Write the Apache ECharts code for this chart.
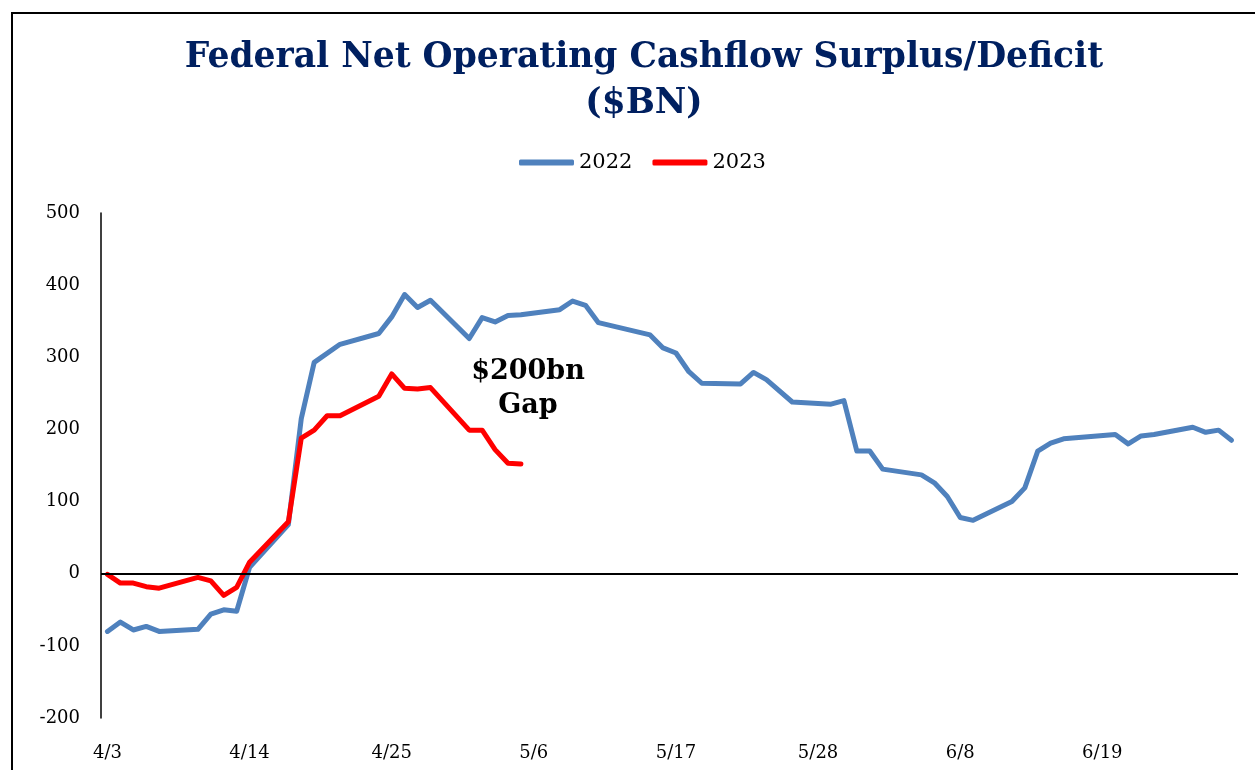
<!DOCTYPE html>
<html>
<head>
<meta charset="utf-8">
<title>Federal Net Operating Cashflow Surplus/Deficit</title>
<script src="https://cdn.jsdelivr.net/npm/echarts@6.0.0/dist/echarts.min.js"></script>
<style>
  html, body { margin: 0; padding: 0; width: 1255px; height: 770px; overflow: hidden; background: #fff; }
  #chart { position: absolute; left: 0; top: 0; width: 1255px; height: 770px; }
  #frame { position: absolute; left: 11px; top: 12px; width: 1300px; height: 800px; border: 2px solid #000; pointer-events: none; }
</style>
</head>
<body>
<div id="chart"></div>
<div id="frame"></div>
<script>
// Calendar days shown on the horizontal axis (one band per day)
const days = [
  '4/3','4/4','4/5','4/6','4/7','4/8','4/9','4/10','4/11','4/12','4/13','4/14','4/15','4/16','4/17','4/18',
  '4/19','4/20','4/21','4/22','4/23','4/24','4/25','4/26','4/27','4/28','4/29','4/30',
  '5/1','5/2','5/3','5/4','5/5','5/6','5/7','5/8','5/9','5/10','5/11','5/12','5/13','5/14','5/15','5/16',
  '5/17','5/18','5/19','5/20','5/21','5/22','5/23','5/24','5/25','5/26','5/27','5/28','5/29','5/30','5/31',
  '6/1','6/2','6/3','6/4','6/5','6/6','6/7','6/8','6/9','6/10','6/11','6/12','6/13','6/14','6/15','6/16',
  '6/17','6/18','6/19','6/20','6/21','6/22','6/23','6/24','6/25','6/26','6/27','6/28','6/29'
];

// 2022 cumulative net operating cashflow ($BN), by reporting day
const dates2022 = [
  '4/3','4/4','4/5','4/6','4/7','4/10','4/11','4/12','4/13','4/14','4/17','4/18','4/19','4/21',
  '4/24','4/25','4/26','4/27','4/28','5/1','5/2','5/3','5/4','5/5','5/8','5/9','5/10','5/11',
  '5/15','5/16','5/17','5/18','5/19','5/22','5/23','5/24','5/26','5/29','5/30','5/31','6/1','6/2',
  '6/5','6/6','6/7','6/8','6/9','6/12','6/13','6/14','6/15','6/16','6/20','6/21','6/22','6/23',
  '6/26','6/27','6/28','6/29'
];
const values2022 = [
  -80, -67, -78, -73, -80, -77, -56, -50, -52, 9, 68, 215, 293, 318,
  333, 356, 387, 369, 379, 326, 355, 349, 358, 359, 366, 378, 372, 348,
  331, 313, 306, 280, 264, 263, 279, 269, 238, 235, 240, 170, 170, 145,
  137, 126, 107, 78, 74, 100, 119, 170, 181, 187, 193, 180, 191, 193,
  203, 196, 199, 185
];

// 2023 cumulative net operating cashflow ($BN), by reporting day
const dates2023 = [
  '4/3','4/4','4/5','4/6','4/7','4/10','4/11','4/12','4/13','4/14','4/17','4/18','4/19','4/20',
  '4/21','4/24','4/25','4/26','4/27','4/28','5/1','5/2','5/3','5/4','5/5'
];
const values2023 = [
  -1, -13, -13, -18, -20, -5, -10, -30, -19, 16, 72, 188, 199, 219,
  219, 246, 277, 257, 256, 258, 199, 199, 172, 153, 152
];

const yTicks = { min: -200, max: 500, interval: 100 };
const seriesNames = ['2022', '2023'];
const gapNote = '$200bn\nGap';

const pair = (ds, vs) => ds.map((d, i) => [d, vs[i]]);
const serif = 'DejaVu Serif';

const chart = echarts.init(document.getElementById('chart'), null, { renderer: 'canvas' });
chart.setOption({
  animation: false,
  backgroundColor: '#fff',
  title: {
    text: 'Federal Net Operating Cashflow Surplus/Deficit\n($BN)',
    left: 639,
    top: 30,
    textAlign: 'center',
    textStyle: {
      fontFamily: serif, fontWeight: 'bold', fontSize: 34.5, color: '#002060', lineHeight: 46
    }
  },
  legend: {
    left: 514,
    top: 147,
    icon: 'roundRect',
    itemWidth: 55,
    itemHeight: 6,
    itemGap: 20,
    textStyle: { fontFamily: serif, fontSize: 21, color: '#000' },
    data: seriesNames
  },
  grid: { left: 101, right: 17, top: 213, bottom: 52, containLabel: false },
  xAxis: {
    type: 'category',
    data: days,
    boundaryGap: true,
    axisLine: { show: false },
    axisTick: { show: false },
    axisLabel: {
      interval: 10,
      margin: 26,
      fontFamily: serif, fontSize: 18, color: '#000'
    },
    splitLine: { show: false }
  },
  yAxis: {
    type: 'value',
    min: yTicks.min,
    max: yTicks.max,
    interval: yTicks.interval,
    axisLine: { show: true, onZero: false, lineStyle: { color: '#000', width: 1.5 } },
    axisTick: { show: false },
    axisLabel: { margin: 21, fontFamily: serif, fontSize: 18, color: '#000' },
    splitLine: { show: false }
  },
  graphic: [{
    type: 'text',
    x: 528,
    y: 355,
    style: {
      text: gapNote,
      x: 0, y: 0,
      align: 'center',
      verticalAlign: 'top',
      font: 'bold 27px "DejaVu Serif"',
      lineHeight: 34,
      fill: '#000'
    }
  }],
  series: [
    {
      name: seriesNames[0],
      type: 'line',
      data: pair(dates2022, values2022),
      symbol: 'none',
      lineStyle: { color: '#4F81BD', width: 5, join: 'round', cap: 'round' },
      itemStyle: { color: '#4F81BD' },
      z: 2,
      markLine: {
        silent: true,
        symbol: 'none',
        label: { show: false },
        lineStyle: { color: '#000', width: 2, type: 'solid' },
        data: [{ yAxis: 0 }]
      }
    },
    {
      name: seriesNames[1],
      type: 'line',
      data: pair(dates2023, values2023),
      symbol: 'none',
      lineStyle: { color: '#FF0000', width: 5, join: 'round', cap: 'round' },
      itemStyle: { color: '#FF0000' },
      z: 3
    }
  ]
});
</script>
</body>
</html>
